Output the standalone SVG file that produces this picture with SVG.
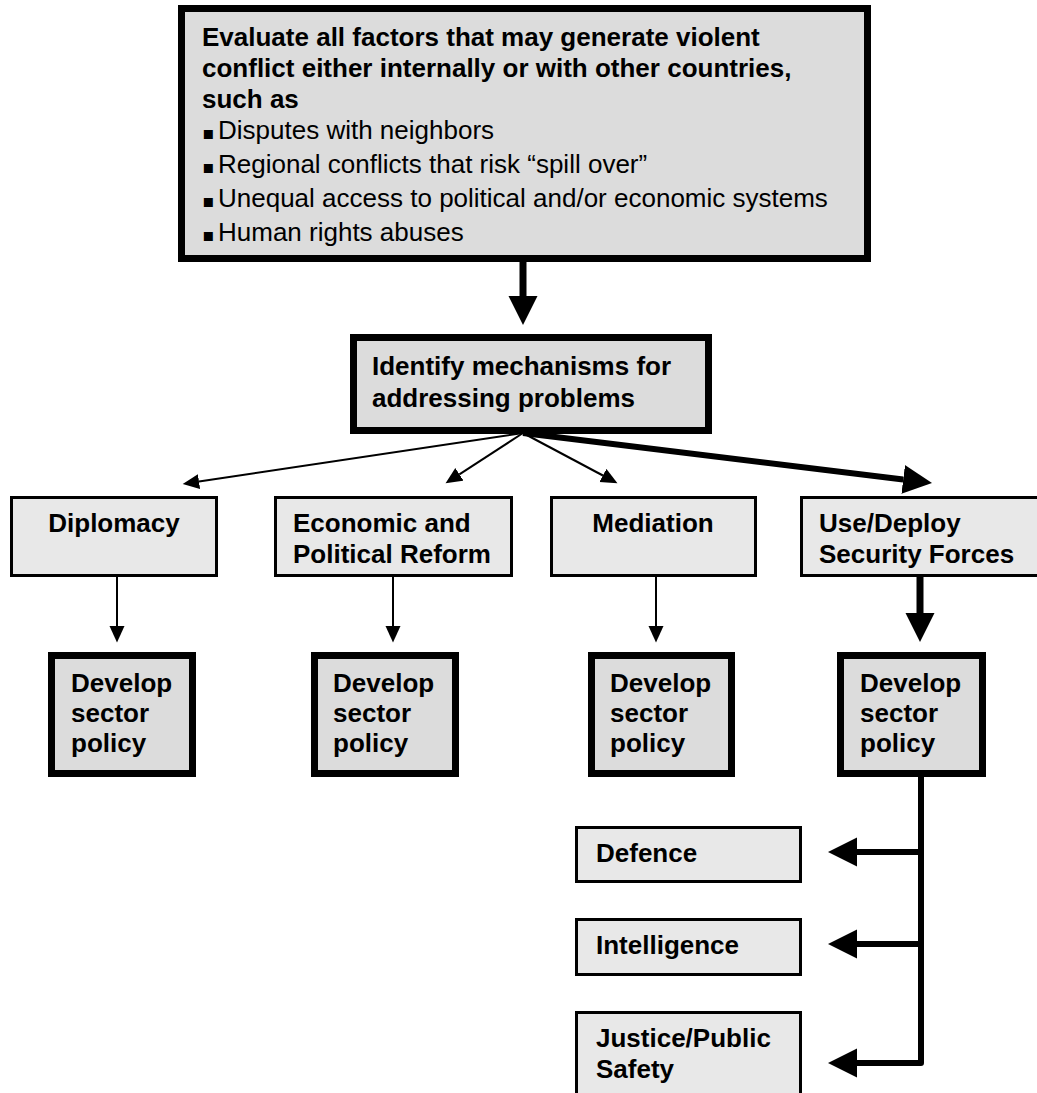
<svg xmlns="http://www.w3.org/2000/svg" width="1037" height="1093" viewBox="0 0 1037 1093">
<style>
  text { font-family: "Liberation Sans", Arial, sans-serif; font-size: 26px; fill: #000; }
  .b { font-weight: bold; }
  .bul { font-family: "DejaVu Sans", sans-serif; font-size: 18px; }
  .heavy { fill: #dcdcdc; stroke: #000; stroke-width: 7; }
  .light { fill: #e8e8e8; stroke: #000; stroke-width: 3; }
  .thin { stroke: #000; stroke-width: 2; fill: none; }
  .thick { stroke: #000; stroke-width: 7; fill: none; }
</style>
<defs>
  <marker id="ah" markerUnits="userSpaceOnUse" markerWidth="17" markerHeight="16" viewBox="0 -8 17 16" refX="0" refY="0" orient="auto">
    <path d="M0,-7.5 L16.5,0 L0,7.5 Z" fill="#000"/>
  </marker>
  <marker id="AH" markerUnits="userSpaceOnUse" markerWidth="30" markerHeight="30" viewBox="0 -15 30 30" refX="0" refY="0" orient="auto">
    <path d="M0,-14.5 L29,0 L0,14.5 Z" fill="#000"/>
  </marker>
</defs>

<g id="connectors">
  <line class="thick" x1="523" y1="262" x2="523" y2="296" marker-end="url(#AH)"/>
  <line class="thin" x1="523" y1="433" x2="199" y2="481.6" marker-end="url(#ah)"/>
  <line class="thin" x1="523" y1="433" x2="459.4" y2="474.3" marker-end="url(#ah)"/>
  <line class="thin" x1="523" y1="433" x2="602.9" y2="475.5" marker-end="url(#ah)"/>
  <line x1="523" y1="433" x2="903.2" y2="479.4" stroke="#000" stroke-width="6" marker-end="url(#AH)"/>
  <line class="thin" x1="117" y1="577" x2="117" y2="626" marker-end="url(#ah)"/>
  <line class="thin" x1="393" y1="577" x2="393" y2="626" marker-end="url(#ah)"/>
  <line class="thin" x1="656" y1="577" x2="656" y2="626" marker-end="url(#ah)"/>
  <line class="thick" x1="920" y1="577" x2="920" y2="613" marker-end="url(#AH)"/>
  <path d="M921,777 L921,1063 L857,1063" stroke="#000" stroke-width="6" fill="none" stroke-linejoin="round" marker-end="url(#AH)"/>
  <line x1="921" y1="852" x2="857" y2="852" stroke="#000" stroke-width="6" marker-end="url(#AH)"/>
  <line x1="921" y1="944" x2="857" y2="944" stroke="#000" stroke-width="6" marker-end="url(#AH)"/>
</g>

<g id="evaluate">
  <rect class="heavy" x="181.5" y="8.5" width="686" height="250"/>
  <text class="b" x="202" y="46">Evaluate all factors that may generate violent</text>
  <text class="b" x="202" y="77">conflict either internally or with other countries,</text>
  <text class="b" x="202" y="108">such as</text>
  <text x="202" y="139"><tspan class="bul">▪</tspan><tspan x="218">Disputes with neighbors</tspan></text>
  <text x="202" y="173"><tspan class="bul">▪</tspan><tspan x="218">Regional conflicts that risk “spill over”</tspan></text>
  <text x="202" y="207"><tspan class="bul">▪</tspan><tspan x="218">Unequal access to political and/or economic systems</tspan></text>
  <text x="202" y="241"><tspan class="bul">▪</tspan><tspan x="218">Human rights abuses</tspan></text>
</g>

<g id="identify">
  <rect class="heavy" x="353.5" y="337.5" width="355" height="93"/>
  <text class="b" x="372" y="375">Identify mechanisms for</text>
  <text class="b" x="372" y="407">addressing problems</text>
</g>

<g id="diplomacy">
  <rect class="light" x="11.5" y="497.5" width="205" height="78"/>
  <text class="b" x="114" y="532" text-anchor="middle">Diplomacy</text>
</g>
<g id="reform">
  <rect class="light" x="275.5" y="497.5" width="236" height="78"/>
  <text class="b" x="293" y="532">Economic and</text>
  <text class="b" x="293" y="563">Political Reform</text>
</g>
<g id="mediation">
  <rect class="light" x="551.5" y="497.5" width="204" height="78"/>
  <text class="b" x="653" y="532" text-anchor="middle">Mediation</text>
</g>
<g id="security">
  <rect class="light" x="801.5" y="497.5" width="240" height="78"/>
  <text class="b" x="819" y="532">Use/Deploy</text>
  <text class="b" x="819" y="563">Security Forces</text>
</g>

<g id="policy1">
  <rect class="heavy" x="51.5" y="655.5" width="141" height="118"/>
  <text class="b" x="71" y="692">Develop</text>
  <text class="b" x="71" y="722">sector</text>
  <text class="b" x="71" y="752">policy</text>
</g>
<g id="policy2">
  <rect class="heavy" x="314.5" y="655.5" width="141" height="118"/>
  <text class="b" x="333" y="692">Develop</text>
  <text class="b" x="333" y="722">sector</text>
  <text class="b" x="333" y="752">policy</text>
</g>
<g id="policy3">
  <rect class="heavy" x="591.5" y="655.5" width="140" height="118"/>
  <text class="b" x="610" y="692">Develop</text>
  <text class="b" x="610" y="722">sector</text>
  <text class="b" x="610" y="752">policy</text>
</g>
<g id="policy4">
  <rect class="heavy" x="840.5" y="655.5" width="142" height="118"/>
  <text class="b" x="860" y="692">Develop</text>
  <text class="b" x="860" y="722">sector</text>
  <text class="b" x="860" y="752">policy</text>
</g>

<g id="defence">
  <rect class="light" x="576.5" y="827.5" width="224" height="54"/>
  <text class="b" x="596" y="862">Defence</text>
</g>
<g id="intelligence">
  <rect class="light" x="576.5" y="919.5" width="224" height="55"/>
  <text class="b" x="596" y="954">Intelligence</text>
</g>
<g id="justice">
  <rect class="light" x="576.5" y="1012.5" width="224" height="90"/>
  <text class="b" x="596" y="1047">Justice/Public</text>
  <text class="b" x="596" y="1078">Safety</text>
</g>
</svg>
